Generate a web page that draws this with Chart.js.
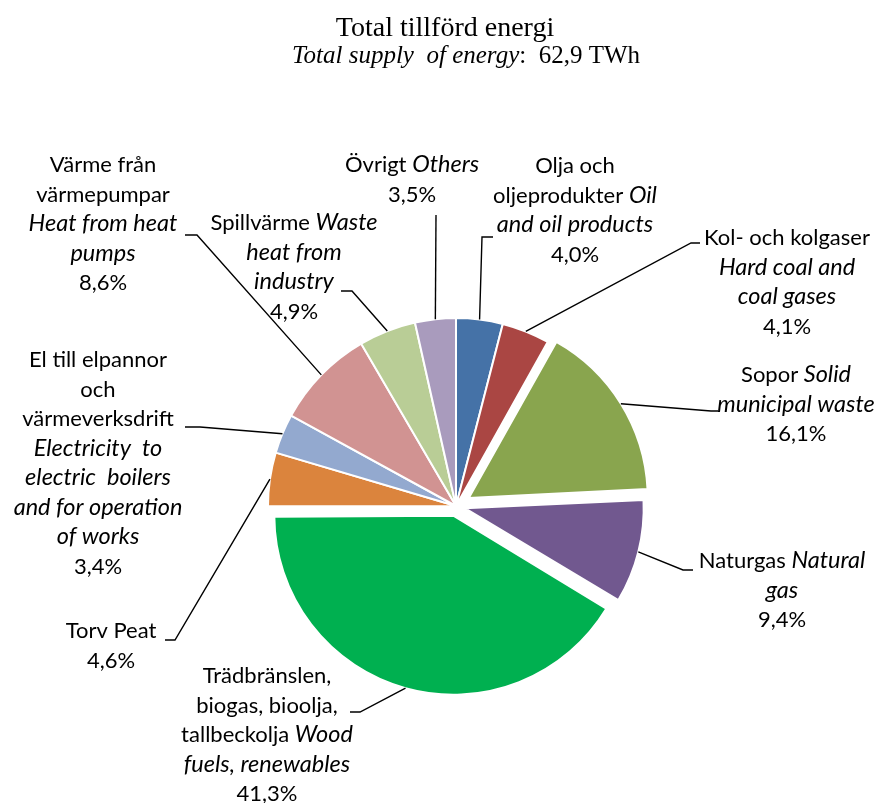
<!DOCTYPE html>
<html>
<head>
<meta charset="utf-8">
<title>Total tillförd energi</title>
<script src="https://cdn.jsdelivr.net/npm/chart.js@4.4.1/dist/chart.umd.min.js"></script>
<style>
  html, body { margin: 0; padding: 0; background: #fff; }
  #wrap { width: 881px; height: 803px; }
</style>
</head>
<body>
<div id="wrap"><canvas id="pie" width="881" height="803"></canvas></div>
<script>
// supply of energy, clockwise from 12 o'clock (percent of total)
const sources = ['Olja', 'Kol', 'Sopor', 'Naturgas', 'Trädbränslen', 'Torv', 'El', 'Värmepumpar', 'Spillvärme', 'Övrigt'];
const shares = [4.0, 4.1, 16.1, 9.4, 41.3, 4.6, 3.4, 8.6, 4.9, 3.5];
const totalTWh = 62.9;

const sliceColors = ['#4572A7', '#AA4643', '#89A54E', '#71588F', '#00B050',
                     '#DB843D', '#93A9CF', '#D19392', '#B9CD96', '#A99BBD'];

// label text per slice, one array per line; runs starting with '~' are italic
const labelLines = [
  [['Olja och'], ['oljeprodukter ', '~Oil'], ['~and oil products']],
  [['Kol- och kolgaser'], ['~Hard coal and'], ['~coal gases']],
  [['Sopor ', '~Solid'], ['~municipal waste']],
  [['Naturgas ', '~Natural'], ['~gas']],
  [['Trädbränslen,'], ['biogas, bioolja,'], ['tallbeckolja ', '~Wood'], ['~fuels, renewables']],
  [['Torv Peat']],
  [['El till elpannor'], ['och'], ['värmeverksdrift'], ['~Electricity  to'], ['~electric  boilers'], ['~and for operation'], ['~of works']],
  [['Värme från'], ['värmepumpar'], ['~Heat from heat'], ['~pumps']],
  [['Spillvärme ', '~Waste'], ['~heat from'], ['~industry']],
  [['Övrigt ', '~Others']]
];

// label placement: text centre x, first baseline y, leader elbow and end
const labelPos = [
  { x: 575, y: 173, elbow: [482, 237], end: [493, 237] },
  { x: 787, y: 245, elbow: [691, 243], end: [700, 243] },
  { x: 796, y: 382, elbow: [711, 411], end: [718, 411] },
  { x: 782, y: 568, elbow: [683, 570], end: [693, 570] },
  { x: 267, y: 683, elbow: [360, 712], end: [350, 712] },
  { x: 111, y: 638, elbow: [175, 640], end: [165, 640] },
  { x: 98,  y: 367, elbow: [200, 427], end: [185, 427] },
  { x: 103, y: 172, elbow: [197, 235], end: [185, 235] },
  { x: 294, y: 230, elbow: [352, 291], end: [341, 291] },
  { x: 412, y: 172, elbow: [436, 215], end: [436, 215] }
];

// pulled-out slices (Chart.js moves an arc by offset / 4)
const explode = [0, 0, 60, 36, 40, 0, 0, 0, 0, 0];
const pieRadius = 188;
const explodedRadius = 179;

const LINE_H = 29.5;
const FONT = '22px Lato, "Open Sans", sans-serif';
const FONT_I = 'italic 23.5px Lato, "Open Sans", sans-serif';
const SERIF = '"Liberation Serif", "Times New Roman", serif';

const fmtNum = v => v.toFixed(1).replace('.', ',');

function arcShift(arc) {
  return (arc.options.offset || 0) / 4;
}
function arcFix(arc) {
  const c = arc.endAngle - arc.startAngle;
  return arcShift(arc) * (1 - Math.sin(Math.min(Math.PI, c)));
}

// exploded slices are drawn a bit smaller than the rest
const shrinkExploded = {
  id: 'shrinkExploded',
  beforeDatasetsDraw(chart) {
    chart.getDatasetMeta(0).data.forEach((arc, i) => {
      if (explode[i]) arc.outerRadius = explodedRadius - arcFix(arc);
    });
  }
};

function drawRuns(ctx, runs, cx, y) {
  const parts = runs.map(r => {
    const italic = r.startsWith('~');
    const t = italic ? r.slice(1) : r;
    ctx.font = italic ? FONT_I : FONT;
    return { t, italic, w: ctx.measureText(t).width };
  });
  let x = cx - parts.reduce((s, p) => s + p.w, 0) / 2;
  parts.forEach(p => {
    ctx.font = p.italic ? FONT_I : FONT;
    ctx.fillText(p.t, x, y);
    x += p.w;
  });
}

const sliceLabels = {
  id: 'sliceLabels',
  afterDatasetsDraw(chart) {
    const ctx = chart.ctx;
    const arcs = chart.getDatasetMeta(0).data;
    ctx.save();
    ctx.strokeStyle = '#000';
    ctx.lineWidth = 1.4;
    ctx.fillStyle = '#000';
    ctx.textAlign = 'left';
    ctx.textBaseline = 'alphabetic';
    arcs.forEach((arc, i) => {
      const pos = labelPos[i];
      const mid = (arc.startAngle + arc.endAngle) / 2;
      const r = arc.outerRadius + arcFix(arc) + arcShift(arc);
      const px = arc.x + Math.cos(mid) * r;
      const py = arc.y + Math.sin(mid) * r;
      ctx.beginPath();
      ctx.moveTo(px, py);
      ctx.lineTo(pos.elbow[0], pos.elbow[1]);
      ctx.lineTo(pos.end[0], pos.end[1]);
      ctx.stroke();

      const lines = labelLines[i].concat([[fmtNum(shares[i]) + '%']]);
      lines.forEach((runs, k) => drawRuns(ctx, runs, pos.x, pos.y + k * LINE_H));
    });
    ctx.restore();
  }
};

const heading = {
  id: 'heading',
  afterDraw(chart) {
    const ctx = chart.ctx;
    ctx.save();
    ctx.fillStyle = '#000';
    ctx.textBaseline = 'alphabetic';
    ctx.font = '28px ' + SERIF;
    ctx.textAlign = 'center';
    ctx.fillText('Total tillförd energi', 445, 36);

    ctx.textAlign = 'left';
    const a = 'Total supply  of energy';
    const b = ':  ' + fmtNum(totalTWh) + ' TWh';
    ctx.font = 'italic 25px ' + SERIF;
    const wa = ctx.measureText(a).width;
    ctx.font = '25px ' + SERIF;
    const wb = ctx.measureText(b).width;
    const x = 466 - (wa + wb) / 2;
    ctx.font = 'italic 25px ' + SERIF;
    ctx.fillText(a, x, 63);
    ctx.font = '25px ' + SERIF;
    ctx.fillText(b, x + wa, 63);
    ctx.restore();
  }
};

new Chart(document.getElementById('pie'), {
  type: 'pie',
  data: {
    labels: sources,
    datasets: [{
      data: shares,
      backgroundColor: sliceColors,
      borderColor: '#fff',
      borderWidth: 2,
      offset: explode,
      radius: pieRadius
    }]
  },
  options: {
    responsive: false,
    animation: false,
    events: [],
    layout: { padding: { left: 31, right: 0, top: 209, bottom: 0 } },
    plugins: {
      legend: { display: false },
      tooltip: { enabled: false },
      title: { display: false }
    }
  },
  plugins: [shrinkExploded, sliceLabels, heading]
});
</script>
</body>
</html>
